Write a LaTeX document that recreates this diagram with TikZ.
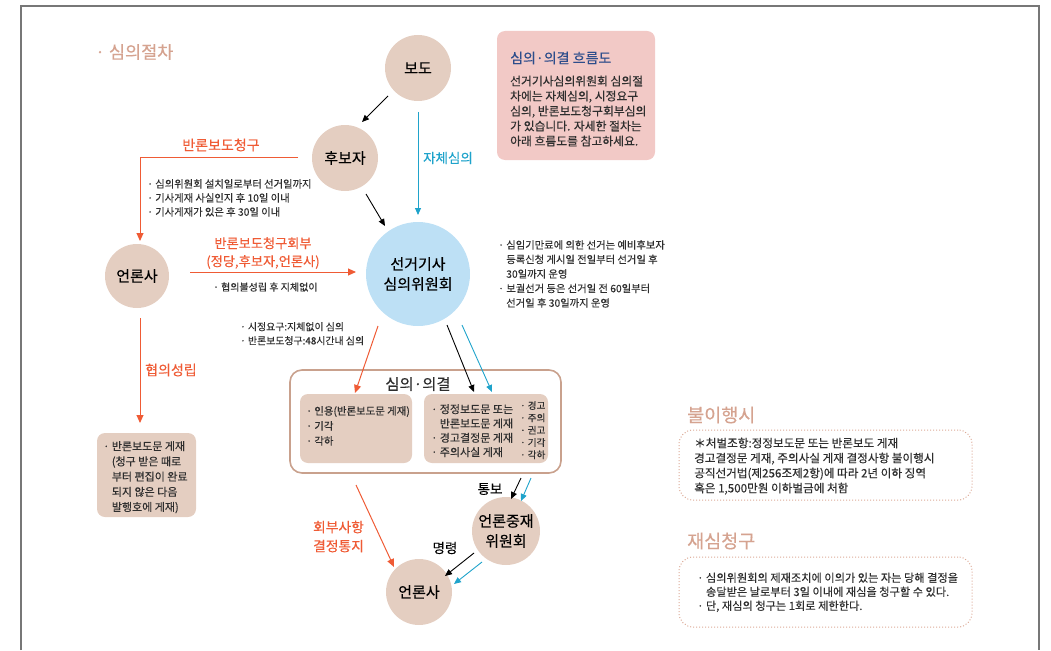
\documentclass[tikz,border=0pt]{standalone}
\usepackage{fontspec}
\setmainfont{Noto Sans CJK KR}[FakeBold=0.3]
\usetikzlibrary{arrows.meta}
\definecolor{circfill}{HTML}{E4CEC1}
\definecolor{lblue}{HTML}{BDE0F5}
\definecolor{pinkc}{HTML}{F2C9C6}
\definecolor{redc}{HTML}{EF5B35}
\definecolor{bluec}{HTML}{1FA3CB}
\definecolor{tanc}{HTML}{D5A390}
\definecolor{dotc}{HTML}{DCA996}
\definecolor{boxbrown}{HTML}{C9A18D}
\definecolor{titleblue}{HTML}{2D4D8B}
\definecolor{txtc}{HTML}{2E2E2E}
\definecolor{framec}{HTML}{777777}
\begin{document}
\begin{tikzpicture}[x=1pt,y=-1pt,
  circnode/.style={circle, fill=circfill, minimum size=66pt, inner sep=0pt, align=center, text=black, font=\fontsize{15}{20}\selectfont},
  txt/.style={anchor=north west, inner sep=0pt, align=left, text=txtc},
  small/.style={font=\fontsize{10.3}{14}\selectfont},
  redlbl/.style={text=redc, inner sep=0pt, font=\fontsize{14}{19}\selectfont, align=center},
  bluelbl/.style={text=bluec, inner sep=0pt, font=\fontsize{13.5}{19}\selectfont},
  blklbl/.style={text=black, inner sep=0pt, font=\fontsize{13.5}{19}\selectfont},
  heading/.style={anchor=west, text=tanc, inner sep=0pt, font=\fontsize{18.5}{22}\selectfont},
  rarrow/.style={draw=redc, line width=1pt, -{Triangle[length=8pt,width=7pt]}},
  karrow/.style={draw=black, line width=0.9pt, -{Triangle[length=7pt,width=6pt]}},
  barrow/.style={draw=bluec, line width=0.9pt, -{Triangle[length=7pt,width=6pt]}},
  softbox/.style={fill=circfill, rounded corners=8pt, inner sep=0pt},
  dotbox/.style={draw=dotc, dotted, line width=1pt, rounded corners=14pt, inner sep=0pt, minimum width=293pt, minimum height=70pt}
]
\useasboundingbox (0,0) rectangle (1051,650);
% frame
\draw[framec, line width=1.2pt] (21,650) -- (21,6) -- (1039,6) -- (1039,650);

% heading
\node[anchor=west, text=tanc, inner sep=0pt, font=\fontsize{17.5}{20}\selectfont] (title) at (95,52) {· 심의절차};

% pink info box
\node[fill=pinkc, rounded corners=8pt, minimum width=158pt, minimum height=129pt, inner sep=0pt] (pbox) at (576,95.5) {};
\node[anchor=west, text=titleblue, inner sep=0pt, font=\fontsize{14}{17}\selectfont] (ptitle) at (510,58) {심의·의결 흐름도};
\node[txt, font=\fontsize{11.8}{15}\selectfont] (ptext) at (510,75.5) {선거기사심의위원회 심의절\\차에는 자체심의, 시정요구\\심의, 반론보도청구회부심의\\가 있습니다. 자세한 절차는\\아래 흐름도를 참고하세요.};

% circles
\node[circnode] (bodo) at (418,68) {보도};
\node[circnode] (hubo) at (345,158) {후보자};
\node[circnode, fill=lblue, minimum size=104pt] (sel) at (418,274) {선거기사\\심의위원회};
\node[circnode, minimum size=64pt] (eon1) at (137,276) {언론사};
\node[circnode, minimum size=68pt] (jung) at (506,531) {언론중재\\위원회};
\node[circnode] (eon2) at (419,592) {언론사};

% big box
\node[draw=boxbrown, line width=1.6pt, rounded corners=12pt, minimum width=271pt, minimum height=103pt, fill=white, inner sep=0pt] (bigbox) at (425.5,421.5) {};
\node[inner sep=0pt, font=\fontsize{15.4}{18}\selectfont, text=txtc] (bigtitle) at (418,384) {심의·의결};
\node[softbox, minimum width=112pt, minimum height=69pt] (inl) at (356,428.5) {};
\node[softbox, minimum width=124pt, minimum height=69pt] (inr) at (486,428.5) {};
\node[txt, font=\fontsize{10.4}{15}\selectfont] (inltext) at (306,406) {· 인용(반론보도문 게재)\\· 기각\\· 각하};
\node[txt, font=\fontsize{11}{14.3}\selectfont] (inrtext) at (431,404) {· 정정보도문 또는\\\phantom{· }반론보도문 게재\\· 경고결정문 게재\\· 주의사실 게재};
\node[txt, font=\fontsize{9.6}{12.3}\selectfont] (inrtext2) at (520,401) {· 경고\\· 주의\\· 권고\\· 기각\\· 각하};

% left result box
\node[softbox, minimum width=99pt, minimum height=84pt] (lbox) at (146.5,475) {};
\node[txt, font=\fontsize{11}{15.2}\selectfont] (lboxtext) at (103,441) {· 반론보도문 게재\\\phantom{· }(청구 받은 때로\\\phantom{· }부터 편집이 완료\\\phantom{· }되지 않은 다음\\\phantom{· }발행호에 게재)};

% small notes
\node[txt, small] (noteA) at (147,179) {· 심의위원회 설치일로부터 선거일까지\\· 기사게재 사실인지 후 10일 이내\\· 기사게재가 있은 후 30일 이내};
\node[txt, font=\fontsize{10.3}{14.5}\selectfont] (noteB) at (498,240) {· 심임기만료에 의한 선거는 예비후보자\\\phantom{· }등록신청 게시일 전일부터 선거일 후\\\phantom{· }30일까지 운영\\· 보궐선거 등은 선거일 전 60일부터\\\phantom{· }선거일 후 30일까지 운영};
\node[txt, font=\fontsize{9.9}{14}\selectfont] (noteC) at (240,322) {· 시정요구:지체없이 심의\\· 반론보도청구:48시간내 심의};
\node[txt, font=\fontsize{10}{14}\selectfont, anchor=west] (noteD) at (213,287) {· 협의불성립 후 지체없이};

% labels
\node[redlbl] (l1) at (221,145) {반론보도청구};
\node[redlbl, font=\fontsize{13.2}{18}\selectfont] (l2) at (263,253) {반론보도청구회부\\(정당,후보자,언론사)};
\node[bluelbl] (l3) at (448,158) {자체심의};
\node[redlbl] (l4) at (171,370) {협의성립};
\node[redlbl, font=\fontsize{13.8}{19}\selectfont] (l5) at (338.5,536.5) {회부사항\\결정통지};
\node[blklbl] (l6) at (490,489) {통보};
\node[blklbl] (l7) at (445,548) {명령};

% right side boxes
\node[heading] (h1) at (687,415) {불이행시};
\node[dotbox] (pen) at (825.5,465) {};
\node[txt, font=\fontsize{11.6}{15}\selectfont] (pentext) at (694,437.5) {＊처벌조항:정정보도문 또는 반론보도 게재\\경고결정문 게재, 주의사실 게재 결정사항 불이행시\\공직선거법(제256조제2항)에 따라 2년 이하 징역\\혹은 1,500만원 이하벌금에 처함};
\node[heading] (h2) at (687,541) {재심청구};
\node[dotbox] (re) at (825.5,592) {};
\node[txt, font=\fontsize{11.2}{14}\selectfont] (retext) at (697,572.5) {· 심의위원회의 제재조치에 이의가 있는 자는 당해 결정을\\\phantom{· }송달받은 날로부터 3일 이내에 재심을 청구할 수 있다.\\· 단, 재심의 청구는 1회로 제한한다.};

% connector coordinates
\coordinate (k1s) at (388,96);  \coordinate (k1e) at (362,122);
\coordinate (k2s) at (366,194); \coordinate (k2e) at (385,226);
\coordinate (b1s) at (418,112); \coordinate (b1e) at (418,215);
\coordinate (r1s) at (298,157); \coordinate (r1e) at (140,241);
\coordinate (r2s) at (190,272); \coordinate (r2e) at (356,272);
\coordinate (r3s) at (140,318); \coordinate (r3e) at (140,423);
\coordinate (r4s) at (378,326); \coordinate (r4e) at (355,393);
\coordinate (k3s) at (447,325); \coordinate (k3e) at (474,392);
\coordinate (b2s) at (462,325); \coordinate (b2e) at (492,392);
\coordinate (k4s) at (521,478); \coordinate (k4e) at (511,499);
\coordinate (b3s) at (531,478); \coordinate (b3e) at (521,501);
\coordinate (k5s) at (474,553); \coordinate (k5e) at (445,576);
\coordinate (b4s) at (482,562); \coordinate (b4e) at (454,584);
\coordinate (r5s) at (356,485); \coordinate (r5e) at (394,567);

\draw[karrow] (k1s) -- (k1e);
\draw[karrow] (k2s) -- (k2e);
\draw[barrow] (b1s) -- (b1e);
\draw[rarrow] (r1s) -| (r1e);
\draw[rarrow] (r2s) -- (r2e);
\draw[rarrow] (r3s) -- (r3e);
\draw[rarrow] (r4s) -- (r4e);
\draw[karrow] (k3s) -- (k3e);
\draw[barrow] (b2s) -- (b2e);
\draw[karrow] (k4s) -- (k4e);
\draw[barrow] (b3s) -- (b3e);
\draw[karrow] (k5s) -- (k5e);
\draw[barrow] (b4s) -- (b4e);
\draw[rarrow] (r5s) -- (r5e);
\end{tikzpicture}
\end{document}
